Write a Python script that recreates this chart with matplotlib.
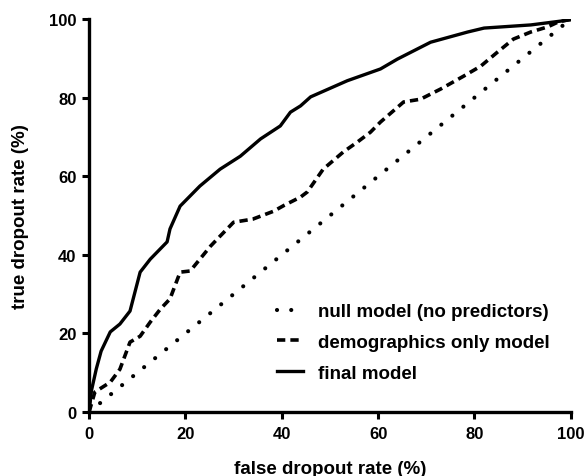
import matplotlib
matplotlib.use("Agg")
import matplotlib.pyplot as plt

plt.rcParams['font.family'] = ['Liberation Sans', 'DejaVu Sans']
plt.rcParams['font.weight'] = 'bold'

# null model (diagonal)
null_x = [0, 100]
null_y = [0, 100]

# demographics only model
demo_x = [0, 1.2, 4.4, 6.4, 8.5, 10.6, 12.7, 14.8, 16.8, 18.9, 21.0, 23.0, 25.2, 26.6,
          30.0, 34.0, 38.3, 40.5, 43.9, 45.3, 48.6, 52.8, 55.7, 58.4, 60.5, 65.3, 68.8,
          73.0, 77.8, 81.3, 84.8, 88.1, 91.7, 95.2, 97.3, 100]
demo_y = [0, 5.1, 7.6, 10.9, 17.8, 19.3, 22.9, 26.2, 28.8, 35.6, 35.9, 38.9, 42.2, 44.0,
          48.3, 49.1, 51.1, 52.6, 54.7, 56.0, 61.8, 66.2, 68.7, 71.2, 73.8, 78.9, 79.6,
          82.2, 85.5, 88.0, 91.6, 94.9, 96.7, 98.0, 99.2, 100]

# final model
final_x = [0, 0.5, 1.5, 2.5, 4.4, 6.4, 8.5, 10.6, 12.7, 16.2, 16.8, 18.9, 23.0, 27.2,
           31.4, 35.6, 39.7, 41.8, 43.9, 46.0, 53.6, 60.5, 64.0, 70.9, 78.6, 82.0,
           91.7, 100]
final_y = [0, 5.5, 11.0, 15.5, 20.4, 22.4, 25.7, 35.6, 38.9, 43.3, 46.6, 52.4, 57.5, 61.8,
           65.1, 69.5, 72.8, 76.3, 77.9, 80.2, 84.3, 87.3, 89.8, 94.1, 96.7, 97.7,
           98.5, 99.8]

labels = ["null model (no predictors)", "demographics only model", "final model"]
ticks = [0, 20, 40, 60, 80, 100]

fig = plt.figure(figsize=(5.86, 4.77), dpi=100)
ax = fig.add_axes([0.152, 0.134, 0.822, 0.824])

ax.plot(null_x, null_y, color='black', lw=3.0, linestyle=(0, (0.01, 3.4)),
        dash_capstyle='round', label=labels[0])
ax.plot(demo_x, demo_y, color='black', lw=2.6, linestyle=(0, (2.3, 1.4)),
        dash_capstyle='butt', label=labels[1])
ax.plot(final_x, final_y, color='black', lw=2.4, linestyle='-', label=labels[2])

ax.set_xlim(0, 100)
ax.set_ylim(0, 100)
ax.set_xticks(ticks)
ax.set_yticks(ticks)
ax.set_xticklabels([str(t) for t in ticks], fontsize=12, fontweight='bold')
ax.set_yticklabels([str(t) for t in ticks], fontsize=12, fontweight='bold')
for s in ['top', 'right']:
    ax.spines[s].set_visible(False)
for s in ['left', 'bottom']:
    ax.spines[s].set_linewidth(2.4)
ax.tick_params(width=2.2, length=5, direction='out')
ax.tick_params(axis='x', pad=5)
ax.tick_params(axis='y', pad=4)

ax.set_xlabel("false dropout rate (%)", fontsize=13.5, fontweight='bold')
ax.set_ylabel("true dropout rate (%)", fontsize=13.5, fontweight='bold')
ax.xaxis.set_label_coords(0.5, -0.123)
ax.yaxis.set_label_coords(-0.124, 0.5)

leg = ax.legend(loc='upper left', bbox_to_anchor=(0.39, 0.277), frameon=False,
                prop={'size': 13.5, 'weight': 'bold'}, handlelength=1.4,
                handletextpad=0.8, labelspacing=0.72, borderpad=0, borderaxespad=0)

fig.savefig("out.png", dpi=100)
